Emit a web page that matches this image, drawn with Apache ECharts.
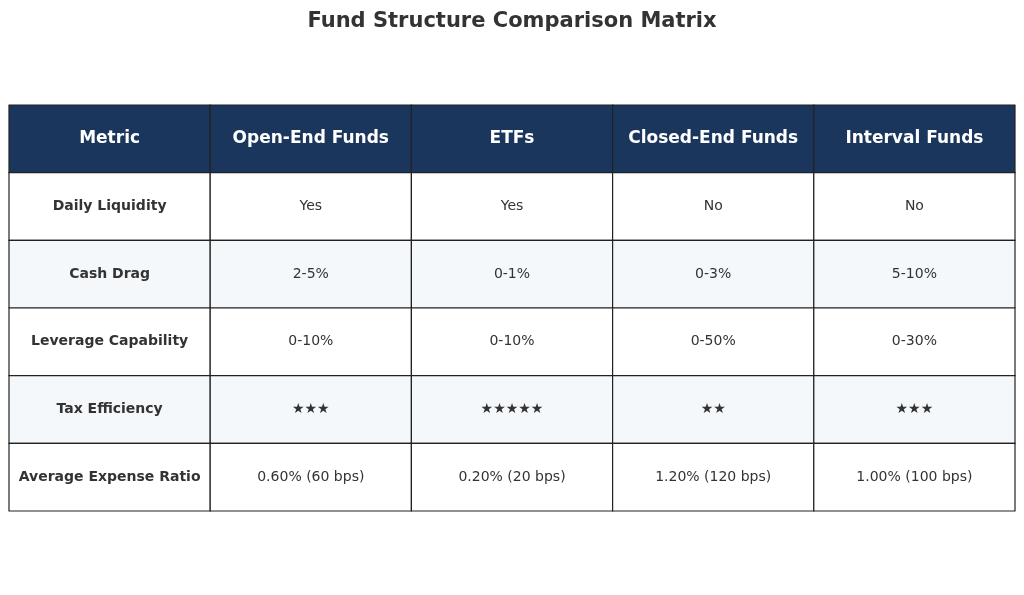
<!DOCTYPE html>
<html><head><meta charset="utf-8">
<script src="https://cdn.jsdelivr.net/npm/echarts@6/dist/echarts.min.js"></script>
<style>html,body{margin:0;padding:0;background:#fff}#c{width:1024px;height:595px}</style>
</head><body><div id="c"></div>
<script>
const columns = ["Metric", "Open-End Funds", "ETFs", "Closed-End Funds", "Interval Funds"];
const metrics = ["Daily Liquidity", "Cash Drag", "Leverage Capability", "Tax Efficiency", "Average Expense Ratio"];
const openEnd = ["Yes", "2-5%", "0-10%", "★★★", "0.60% (60 bps)"];
const etfs = ["Yes", "0-1%", "0-10%", "★★★★★", "0.20% (20 bps)"];
const closedEnd = ["No", "0-3%", "0-50%", "★★", "1.20% (120 bps)"];
const interval = ["No", "5-10%", "0-30%", "★★★", "1.00% (100 bps)"];

const rows = ["header"].concat(metrics);
const cells = [];
columns.forEach((c, i) => cells.push([i, 0, c]));
const body = [metrics, openEnd, etfs, closedEnd, interval];
metrics.forEach((m, r) => body.forEach((col, i) => cells.push([i, r + 1, col[r]])));

const chart = echarts.init(document.getElementById("c"));
chart.setOption({
  animation: false,
  title: { text: "Fund Structure Comparison Matrix", left: "center", top: 6,
    textStyle: { fontFamily: "DejaVu Sans", fontSize: 21, fontWeight: "bold", color: "#333" } },
  grid: { left: 9, right: 9, top: 105, bottom: 84 },
  xAxis: { type: "category", data: columns, show: false },
  yAxis: { type: "category", data: rows, inverse: true, show: false },
  series: [{
    type: "custom",
    data: cells,
    renderItem: (params, api) => {
      const x = api.value(0), y = api.value(1);
      const c = api.coord([x, y]);
      const s = api.size([1, 1]);
      const header = y === 0;
      const fill = header ? "#1b365d" : (y % 2 === 0 ? "#f4f8fb" : "#ffffff");
      const bold = header || x === 0;
      return {
        type: "group",
        children: [
          { type: "rect", shape: { x: c[0] - s[0] / 2, y: c[1] - s[1] / 2, width: s[0], height: s[1] },
            style: { fill: fill, stroke: "#222", lineWidth: 1.2 } },
          { type: "text", x: c[0], y: c[1],
            style: { text: cells[params.dataIndex][2], align: "center", verticalAlign: "middle",
              fontFamily: "DejaVu Sans", fontSize: header ? 17 : 14,
              fontWeight: bold ? "bold" : "normal", fill: header ? "#fff" : "#333" } }
        ]
      };
    }
  }]
});
</script></body></html>
